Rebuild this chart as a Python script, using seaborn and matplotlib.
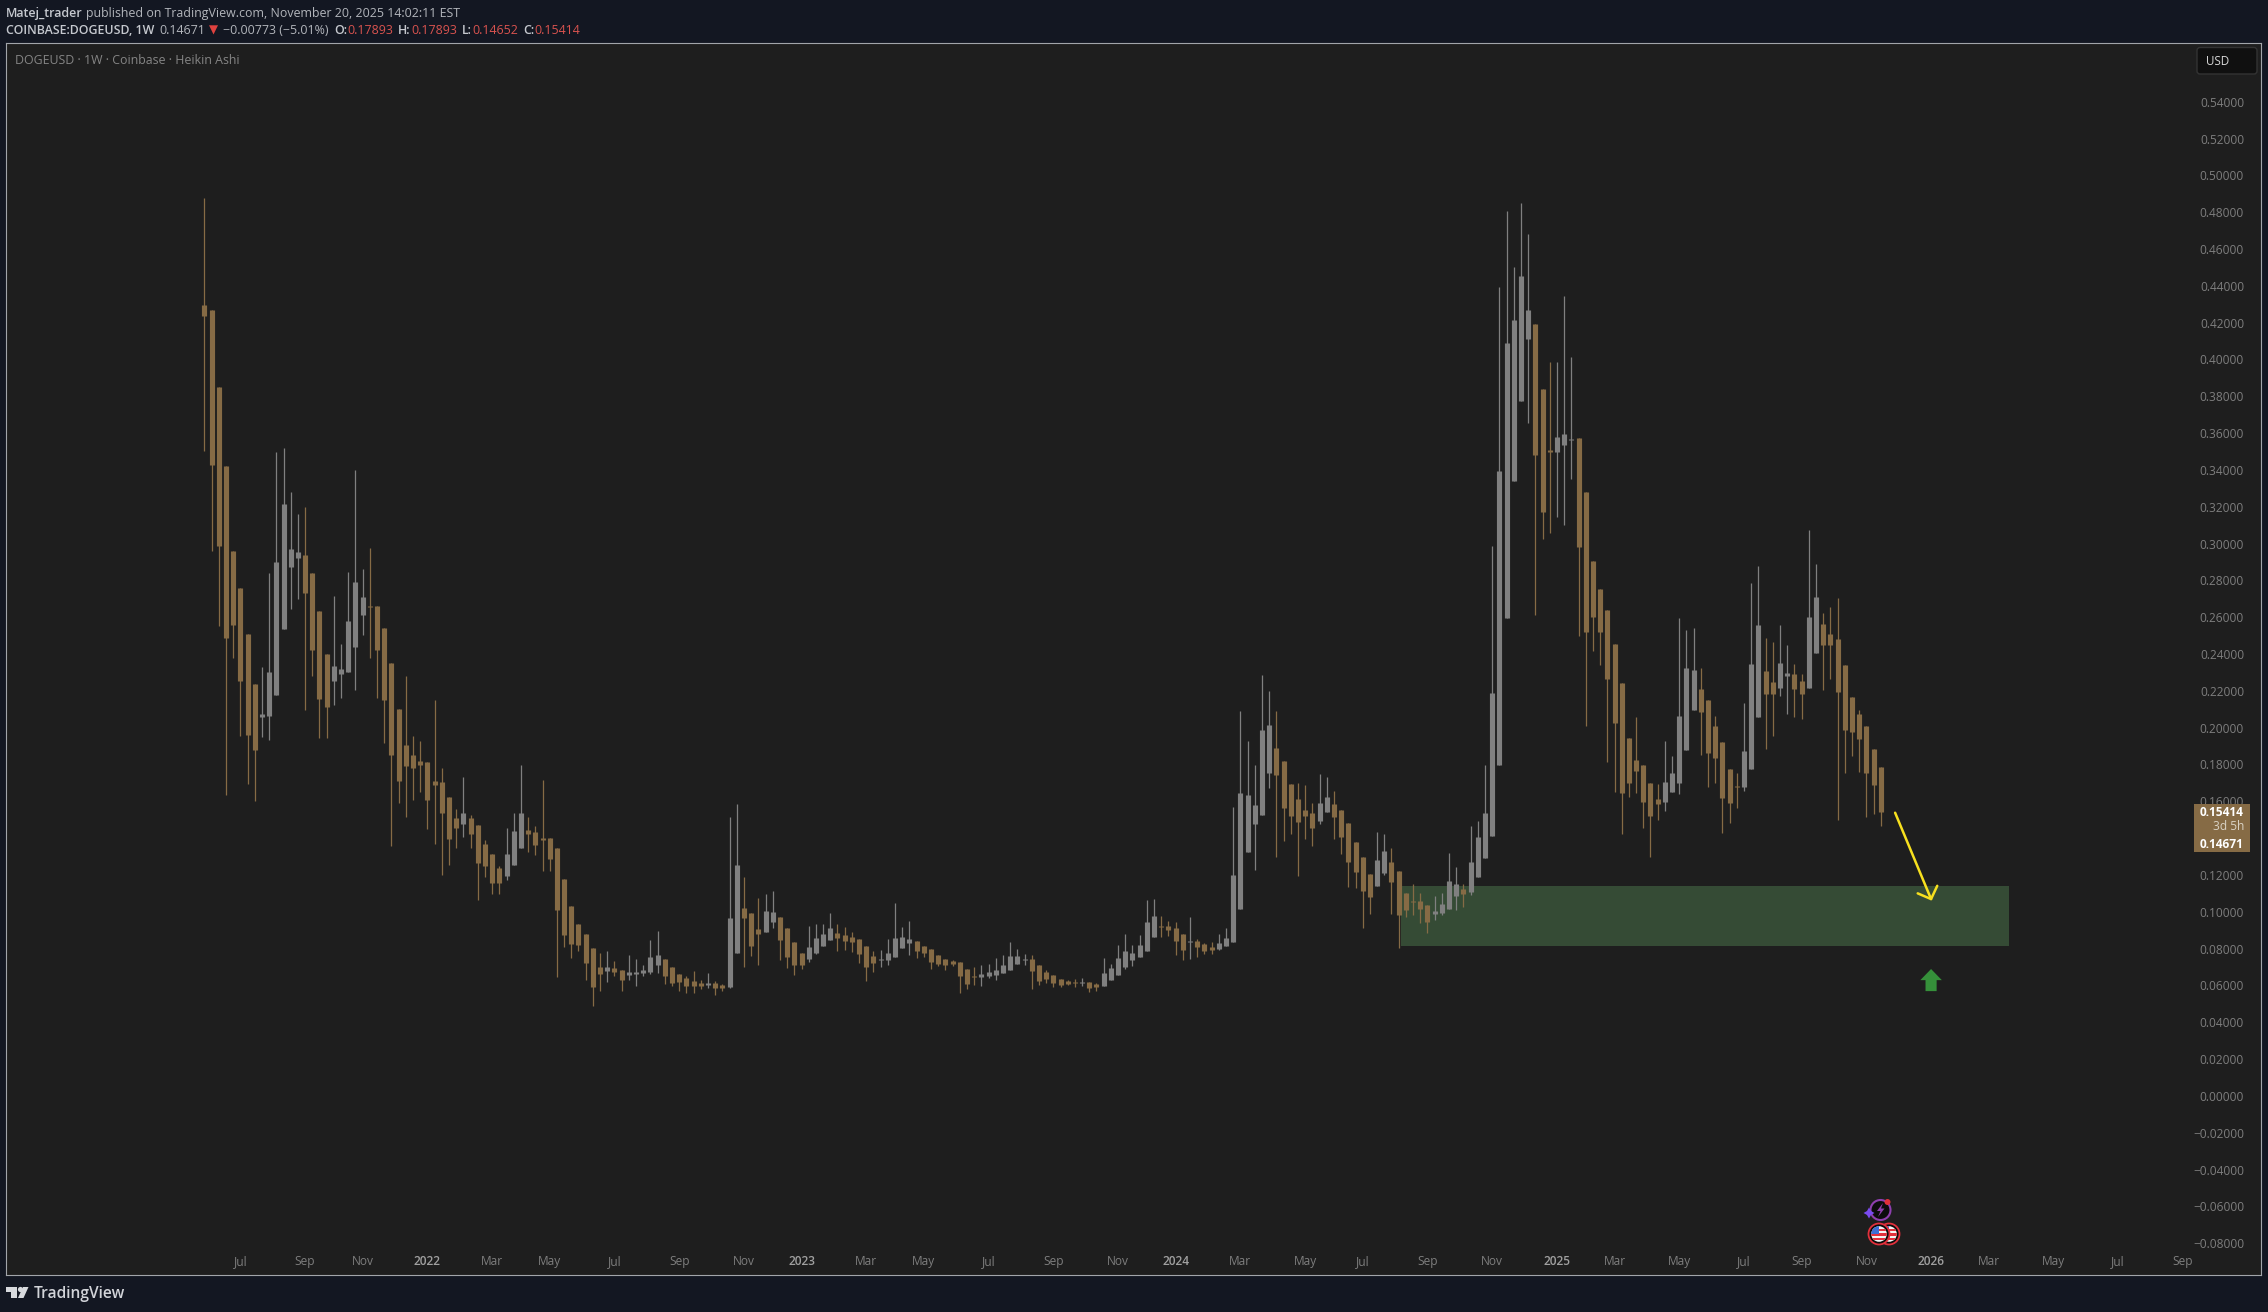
import numpy as np
import pandas as pd
import matplotlib
matplotlib.use('Agg')
import matplotlib.pyplot as plt
from matplotlib.patches import Circle, Rectangle, Polygon, FancyBboxPatch
from matplotlib.transforms import IdentityTransform
import seaborn as sns

# weekly heikin ashi candles
first_week = '2021-05-31'
opens = [
    .4297, .4270, .3851, .3421, .2960, .2758, .2510, .2237, .2057, .2064,
    .2177, .2536, .2873, .2922, .2938, .2840, .2634, .2401, .2255, .2292,
    .2304, .2439, .2612, .2660, .2660, .2541, .2352, .2102, .1906, .1851,
    .1819, .1814, .1711, .1705, .1624, .1510, .1477, .1510, .1472, .1369,
    .1314, .1238, .1194, .1255, .1347, .1444, .1433, .1401, .1401, .1347,
    .1178, .1031, .0934, .0879, .0803, .0700, .0678, .0694, .0683, .0656,
    .0662, .0667, .0672, .0710, .0743, .0700, .0662, .0640, .0624, .0613,
    .0602, .0613, .0602, .0591, .0776, .1020, .0993, .0906, .0890, .0944,
    .0971, .0911, .0835, .0776, .0743, .0776, .0814, .0846, .0884, .0873,
    .0863, .0852, .0814, .0759, .0738, .0738, .0754, .0803, .0830, .0841,
    .0814, .0797, .0765, .0743, .0732, .0727, .0689, .0651, .0645, .0651,
    .0656, .0667, .0683, .0716, .0738, .0743, .0711, .0672, .0656, .0634,
    .0624, .0618, .0613, .0618, .0607, .0596, .0629, .0656, .0700, .0738,
    .0754, .0787, .0863, .0923, .0923, .0912, .0879, .0836, .0841, .0825,
    .0808, .0798, .0814, .0836, .1015, .1324, .1477, .1525, .1754, .1889,
    .1819, .1694, .1612, .1553, .1536, .1493, .1542, .1585, .1553, .1482,
    .1379, .1297, .1205, .1140, .1210, .1270, .1221, .1102, .1056, .1058,
    .1037, .0988, .0993, .1015, .1085, .1124, .1107, .1189, .1292, .1411,
    .1799, .2594, .3339, .3773, .4110, .4193, .3838, .3506, .3497, .3535,
    .3564, .3572, .3281, .2905, .2752, .2638, .2454, .2243, .1942, .1823,
    .1797, .1700, .1612, .1595, .1651, .1700, .1879, .2095, .2210, .2150,
    .2009, .1922, .1775, .1681, .1677, .1775, .2058, .2307, .2248, .2215,
    .2280, .2291, .2253, .2215, .2405, .2563, .2508, .2481, .2340, .2166,
    .2074, .2009, .1884, .1789]
closes = [
    .4237, .3427, .2986, .2487, .2558, .2255, .1960, .1880, .2075, .2304,
    .2900, .3215, .2971, .2955, .2731, .2423, .2155, .2113, .2335, .2319,
    .2581, .2791, .2709, .2656, .2423, .2151, .1851, .1711, .1791, .1780,
    .1798, .1608, .1689, .1537, .1396, .1456, .1537, .1423, .1265, .1249,
    .1157, .1157, .1314, .1439, .1537, .1423, .1363, .1390, .1287, .1010,
    .0874, .0825, .0820, .0722, .0591, .0662, .0700, .0672, .0629, .0672,
    .0672, .0683, .0754, .0765, .0651, .0613, .0618, .0596, .0596, .0596,
    .0613, .0586, .0586, .0966, .1254, .0966, .0814, .0879, .1004, .0998,
    .0846, .0754, .0710, .0710, .0808, .0857, .0879, .0911, .0857, .0841,
    .0835, .0770, .0700, .0721, .0743, .0776, .0857, .0863, .0852, .0787,
    .0776, .0727, .0716, .0710, .0716, .0651, .0607, .0647, .0662, .0672,
    .0683, .0711, .0759, .0759, .0743, .0678, .0624, .0634, .0613, .0602,
    .0607, .0613, .0618, .0586, .0591, .0667, .0694, .0749, .0787, .0776,
    .0819, .0944, .0977, .0917, .0901, .0841, .0792, .0841, .0808, .0787,
    .0792, .0830, .0857, .1200, .1645, .1634, .1580, .1987, .2014, .1743,
    .1563, .1520, .1487, .1520, .1455, .1591, .1623, .1515, .1406, .1270,
    .1216, .1113, .1080, .1281, .1330, .1162, .0982, .1009, .1053, .1015,
    .0944, .1004, .1042, .1167, .1151, .1096, .1270, .1406, .1536, .2187,
    .3395, .4088, .4214, .4452, .4268, .3480, .3172, .3499, .3579, .3594,
    .3569, .2980, .2519, .2602, .2519, .2265, .2025, .1644, .1700, .1765,
    .1595, .1520, .1586, .1704, .1753, .2063, .2323, .2313, .2085, .1862,
    .1835, .1618, .1590, .1677, .1873, .2346, .2557, .2183, .2183, .2351,
    .2297, .2210, .2183, .2601, .2709, .2449, .2449, .2193, .1987, .1976,
    .1938, .1753, .1688, .1541]
highs = [
    .4877, .4270, .3851, .3421, .2960, .2758, .2510, .2237, .2330, .2840,
    .3498, .3518, .3281, .3162, .3199, .2840, .2634, .2401, .2716, .2454,
    .2847, .3401, .2862, .2975, .2660, .2541, .2352, .2102, .2281, .1955,
    .1928, .1814, .2151, .1779, .1624, .1559, .1732, .1526, .1472, .1390,
    .1314, .1249, .1455, .1537, .1797, .1515, .1466, .1716, .1401, .1347,
    .1178, .1031, .0934, .0879, .0803, .0776, .0787, .0732, .0683, .0765,
    .0743, .0710, .0846, .0895, .0743, .0700, .0662, .0651, .0678, .0629,
    .0667, .0624, .0607, .1514, .1585, .1188, .0993, .1074, .1096, .1112,
    .0971, .0911, .0835, .0776, .0922, .0933, .0933, .0993, .0933, .0917,
    .0890, .0852, .0814, .0787, .0792, .0852, .1047, .0917, .0949, .0841,
    .0814, .0797, .0765, .0743, .0738, .0727, .0689, .0700, .0711, .0716,
    .0749, .0765, .0835, .0797, .0770, .0765, .0711, .0683, .0656, .0634,
    .0629, .0634, .0640, .0618, .0613, .0749, .0716, .0819, .0879, .0819,
    .0874, .1064, .1069, .0977, .0950, .0944, .0879, .0971, .0852, .0830,
    .0836, .0879, .0912, .1569, .2090, .1927, .1797, .2286, .2199, .2090,
    .1819, .1694, .1699, .1688, .1591, .1748, .1732, .1656, .1553, .1482,
    .1379, .1297, .1205, .1433, .1422, .1346, .1221, .1102, .1151, .1102,
    .1037, .1085, .1102, .1319, .1243, .1151, .1466, .1493, .1797, .2987,
    .4394, .4806, .4503, .4850, .4680, .4193, .3838, .3986, .3986, .4345,
    .4015, .3572, .3281, .2905, .2752, .2638, .2454, .2243, .1942, .2059,
    .1797, .1700, .1692, .1927, .1845, .2594, .2529, .2541, .2324, .2150,
    .2063, .1922, .1775, .1753, .2134, .2785, .2878, .2487, .2465, .2557,
    .2449, .2346, .2291, .3073, .2889, .2623, .2655, .2704, .2340, .2166,
    .2096, .2009, .1884, .1789]
lows = [
    .3501, .2962, .2550, .1632, .2381, .1955, .1692, .1599, .1949, .1935,
    .2177, .2536, .2647, .2700, .2097, .2281, .1946, .1946, .2124, .2162,
    .2304, .2202, .2505, .2381, .2162, .1918, .1357, .1591, .1516, .1607,
    .1651, .1450, .1369, .1200, .1255, .1347, .1406, .1347, .1065, .1189,
    .1097, .1097, .1173, .1255, .1347, .1325, .1309, .1222, .1222, .0646,
    .0809, .0749, .0787, .0630, .0488, .0570, .0619, .0650, .0569, .0629,
    .0596, .0651, .0662, .0667, .0607, .0596, .0569, .0558, .0558, .0580,
    .0586, .0548, .0569, .0586, .0776, .0700, .0759, .0710, .0890, .0911,
    .0738, .0694, .0656, .0689, .0727, .0770, .0814, .0846, .0787, .0792,
    .0781, .0721, .0624, .0672, .0700, .0711, .0754, .0803, .0765, .0749,
    .0754, .0689, .0705, .0683, .0705, .0558, .0580, .0602, .0596, .0640,
    .0629, .0667, .0683, .0716, .0711, .0580, .0602, .0613, .0591, .0591,
    .0602, .0591, .0596, .0564, .0569, .0596, .0629, .0656, .0689, .0705,
    .0754, .0787, .0863, .0863, .0868, .0765, .0738, .0743, .0754, .0770,
    .0770, .0792, .0814, .0836, .1015, .1324, .1227, .1525, .1672, .1297,
    .1384, .1422, .1194, .1395, .1357, .1477, .1542, .1395, .1314, .1134,
    .1129, .0912, .0988, .1140, .1200, .0988, .0803, .0971, .0982, .0939,
    .0884, .0955, .0982, .1015, .1009, .1026, .1091, .1189, .1292, .1411,
    .1799, .2594, .3339, .3773, .3654, .2614, .3024, .3058, .3145, .3101,
    .3351, .2497, .2008, .2415, .2340, .1814, .1651, .1421, .1622, .1644,
    .1455, .1297, .1498, .1547, .1651, .1639, .1879, .2095, .1851, .1677,
    .1699, .1428, .1482, .1563, .1656, .1775, .2058, .1884, .1955, .2172,
    .2074, .2058, .2047, .2215, .2405, .2204, .2264, .1498, .1753, .1846,
    .1759, .1514, .1531, .1465]

tick_dates = ['2021-07-05', '2021-09-06', '2021-11-01', '2022-01-03', '2022-03-07', '2022-05-02', '2022-07-04', '2022-09-05',
              '2022-11-07', '2023-01-02', '2023-03-06', '2023-05-01', '2023-07-03', '2023-09-04', '2023-11-06', '2024-01-01',
              '2024-03-04', '2024-05-06', '2024-07-01', '2024-09-02', '2024-11-04', '2025-01-06', '2025-03-03', '2025-05-05',
              '2025-07-07', '2025-09-01', '2025-11-03', '2026-01-05', '2026-03-02', '2026-05-04', '2026-07-06', '2026-09-07']
tick_labels = ['Jul', 'Sep', 'Nov', '2022', 'Mar', 'May', 'Jul', 'Sep', 'Nov', '2023', 'Mar', 'May', 'Jul', 'Sep', 'Nov', '2024',
               'Mar', 'May', 'Jul', 'Sep', 'Nov', '2025', 'Mar', 'May', 'Jul', 'Sep', 'Nov', '2026', 'Mar', 'May', 'Jul', 'Sep']
# 0.14 sits behind the price tag in the original, so it has no label
price_ticks = [round(-0.08 + 0.02 * i, 2) for i in range(32) if i != 11]

zone_dates = ['2024-08-07', '2026-03-22']
zone_prices = [0.0814, 0.1140]
arrow_dates = ['2025-12-01', '2026-01-05']
arrow_prices = [0.1538, 0.1069]
head_dates = ['2025-12-23', '2026-01-05', '2026-01-11']
head_prices = [0.1100, 0.1069, 0.1141]

BG = '#131722'
PANEL = '#1e1e1e'
BROWN = '#866b45'
GRAY = '#808080'
W, H = 2268, 1312

sns.set_theme(style='dark', rc={'axes.facecolor': PANEL, 'figure.facecolor': BG})
plt.rcParams['font.family'] = ['Open Sans', 'DejaVu Sans']

weeks = pd.date_range(first_week, periods=len(opens), freq='7D')
df = pd.DataFrame({'date': weeks, 'open': opens, 'close': closes, 'high': highs, 'low': lows})
df['candle'] = range(len(df))
df['side'] = np.where(df['close'] < df['open'], 'down', 'up')
wicks = df.melt(id_vars=['date', 'candle', 'side'], value_vars=['high', 'low'], value_name='price')
bodies = df.melt(id_vars=['date', 'candle', 'side'], value_vars=['open', 'close'], value_name='price')
palette = {'down': BROWN, 'up': GRAY}

fig = plt.figure(figsize=(W / 100, H / 100), dpi=100)
ax = fig.add_axes([6 / W, (H - 1275) / H, (2261 - 6) / W, (1275 - 43) / H])

# the zone sits under the candles
ax.fill_between(pd.to_datetime(zone_dates), zone_prices[0], zone_prices[1], color='#354b35', lw=0, zorder=1)
sns.lineplot(data=wicks, x='date', y='price', units='candle', hue='side', palette=palette, estimator=None,
             linewidth=0.9, legend=False, solid_capstyle='butt', ax=ax, zorder=2)
sns.lineplot(data=bodies, x='date', y='price', units='candle', hue='side', palette=palette, estimator=None,
             linewidth=3.7, legend=False, solid_capstyle='butt', ax=ax, zorder=3)

ax.plot(pd.to_datetime(arrow_dates), arrow_prices, color='#f7e01f', lw=1.8, zorder=4)
ax.plot(pd.to_datetime(head_dates), head_prices, color='#f7e01f', lw=1.8, zorder=4)
ax.annotate('', xy=(pd.Timestamp('2026-01-05'), 0.0689), xytext=(pd.Timestamp('2026-01-05'), 0.0569),
            arrowprops=dict(width=8, headwidth=15.5, headlength=8, shrink=0, facecolor='#35903a', edgecolor='none'), zorder=4)

ax.set_xlim(pd.Timestamp('2020-11-19'), pd.Timestamp('2026-11-22'))
ax.set_ylim(-0.0973, 0.5719)
ax.set_xlabel('')
ax.set_ylabel('')
ax.set_xticks(pd.to_datetime(tick_dates))
ax.set_xticklabels(tick_labels)
ax.yaxis.tick_right()
ax.set_yticks(price_ticks)
ax.set_yticklabels([f'{p:.5f}'.replace('-', '\u2212') for p in price_ticks])
ax.tick_params(axis='x', length=0, pad=-14.2, labelsize=8.6, colors='#7e7e7e')
ax.tick_params(axis='y', length=0, pad=-12.2, labelsize=8.6, colors='#7e7e7e')
for lab in ax.get_yticklabels():
    lab.set_ha('right')
for lab, name in zip(ax.get_xticklabels(), tick_labels):
    if name.isdigit():
        lab.set_color('#a0a0a0')
        lab.set_fontweight('semibold')
ax.grid(False)
for s in ax.spines.values():
    s.set_visible(True)
    s.set_color('#a2a5aa')
    s.set_linewidth(0.8)


def put(x, y, s, color, size=8.95, weight='normal', ha='left'):
    # x, y are pixels from the top left of the picture
    fig.text(x / W, 1 - y / H, s, color=color, fontsize=size, fontweight=weight, ha=ha, va='center', zorder=10)


put(6, 13, 'Matej_trader', '#c5c8ce', weight='semibold')
put(86, 13, 'published on TradingView.com, November 20, 2025 14:02:11 EST', '#b2b5bb')
put(6, 30.5, 'COINBASE:DOGEUSD, 1W', '#c5c8ce', weight='semibold')
put(159, 30.5, '0.14671', '#b2b5bb')
put(209, 30.5, '\u25bc', '#e0423f', size=8.5)
put(223, 30.5, '\u22120.00773 (\u22125.01%)', '#b2b5bb')
red = '#d9534f'
for x_lab, lab, x_val, val in [(334, 'O:', 347, '0.17893'), (398, 'H:', 411, '0.17893'),
                               (462, 'L:', 472.5, '0.14652'), (523, 'C:', 534.5, '0.15414')]:
    put(x_lab, 30.5, lab, '#c5c8ce', weight='semibold')
    put(x_val, 30.5, val, red)
put(15, 61, 'DOGEUSD \u00b7 1W \u00b7 Coinbase \u00b7 Heikin Ashi', '#858585')


def add(patch):
    patch.set_transform(IdentityTransform())
    patch.set_zorder(9)
    fig.add_artist(patch)
    return patch


# USD box and last price tag
add(FancyBboxPatch((2197, H - 74), 60, 26.5, boxstyle='round,pad=0,rounding_size=3', fc='#101010', ec='#333333', lw=1))
put(2206, 61.5, 'USD', '#d8d8d8', size=8.4)
add(Rectangle((2194, H - 852), 55.5, 48, fc=BROWN, ec='none'))
put(2244, 813, '0.15414', 'white', size=8.6, weight='bold', ha='right')
put(2244, 827, '3d 5h', '#d9d2c4', size=8.6, ha='right')
put(2244, 844, '0.14671', 'white', size=8.6, weight='bold', ha='right')

# event icons over the time axis
add(Circle((1880.5, H - 1210), 10, fc='#0c0c0c', ec='#8e3fae', lw=1.5))
add(Polygon([(1883, H - 1203), (1877, H - 1211), (1880.5, H - 1211), (1878, H - 1217), (1884.5, H - 1208.5),
             (1881, H - 1208.5)], fc='#8e3fae', ec='none'))
add(Circle((1887.5, H - 1202), 3, fc='#e0303a', ec='none'))
add(Polygon([(1869, H - 1207.5), (1871, H - 1211), (1874.5, H - 1213), (1871, H - 1215), (1869, H - 1218.5),
             (1867, H - 1215), (1863.5, H - 1213), (1867, H - 1211)], fc='#7a4bf0', ec='none'))
for cx in (1889, 1879):
    add(Circle((cx, H - 1234), 10.5, fc='#0c0c0c', ec='#e2303c', lw=1.3))
    disc = add(Circle((cx, H - 1234), 7.8, fc='#f4f4f4', ec='none'))
    for k in range(3):
        stripe = add(Rectangle((cx - 9, H - 1240 + k * 4.4), 18, 2.2, fc='#e2303c', ec='none'))
        stripe.set_clip_path(disc)
    canton = add(Rectangle((cx - 8, H - 1234), 8, 8, fc='#3b6fd6', ec='none'))
    canton.set_clip_path(disc)

# TradingView mark and name
add(Polygon([(6, H - 1287), (17, H - 1287), (17, H - 1298), (11, H - 1298), (11, H - 1292), (6, H - 1292)], fc='#d8dade', ec='none'))
add(Circle((20.5, H - 1289.5), 2.6, fc='#d8dade', ec='none'))
add(Polygon([(23, H - 1287), (28.5, H - 1287), (23.5, H - 1298), (18, H - 1298)], fc='#d8dade', ec='none'))
put(33.5, 1294, 'TradingView', '#d2d4d9', size=11.2, weight='semibold')

fig.savefig('out.png', dpi=100, facecolor=BG)
